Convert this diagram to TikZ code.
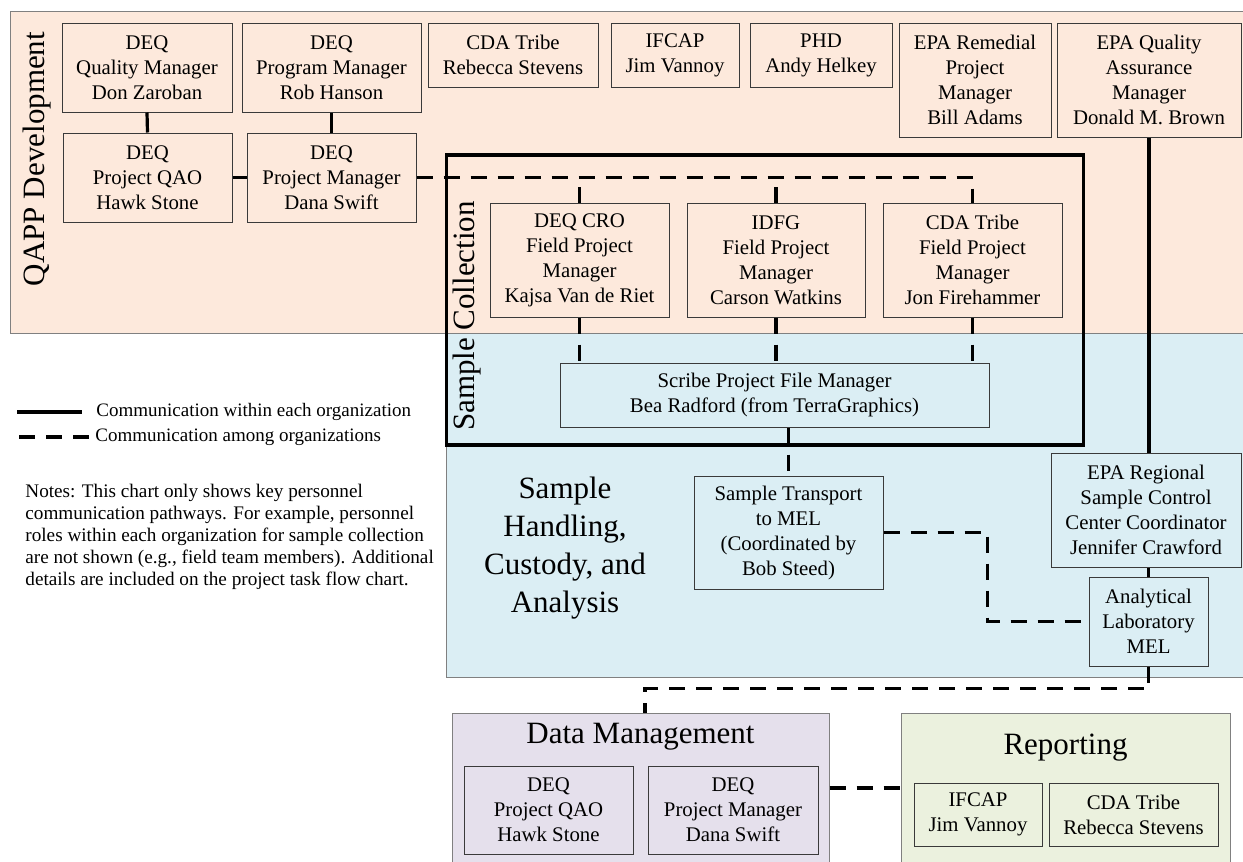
\documentclass[tikz,border=0pt]{standalone}
\usepackage{fontspec}
\setmainfont{Liberation Serif}
\usetikzlibrary{positioning,calc}
\definecolor{qappfill}{HTML}{FDE9DC}
\definecolor{handfill}{HTML}{DBEEF4}
\definecolor{datafill}{HTML}{E5E0EC}
\definecolor{repfill}{HTML}{EBF1DE}
\definecolor{boxline}{HTML}{3A3A3A}
\definecolor{regionline}{HTML}{808080}
\begin{document}
\begin{tikzpicture}[x=0.5pt,y=-0.5pt,
    person/.style={draw=boxline,line width=0.5pt,align=center,inner sep=0pt,font=\fontsize{10.4}{12.5}\selectfont},
    qappbox/.style={person,fill=qappfill},
    handbox/.style={person,fill=handfill},
    databox/.style={person,fill=datafill},
    repbox/.style={person,fill=repfill},
    region/.style={draw=regionline,line width=0.5pt},
    within/.style={line width=1.6pt},
    among/.style={line width=1.6pt,dash pattern=on 8pt off 5.5pt},
    bigtitle/.style={font=\fontsize{15.5}{19}\selectfont,align=center,inner sep=0pt},
    legendtext/.style={font=\fontsize{9.5}{11.5}\selectfont,inner sep=0pt}]
  \useasboundingbox (0,0) rectangle (1243,862);
  \clip (0,0) rectangle (1243,862);
  % the phases as shaded regions
  \draw[region,fill=qappfill] (10,11) rectangle (1260,333);
  \draw[region,fill=handfill] (446,333) rectangle (1260,677);
  \node[region,fill=datafill,minimum width=188.5pt,minimum height=78pt,inner sep=0pt] (dm) at (640.5,791) {};
  \node[region,fill=repfill,minimum width=164.5pt,minimum height=78pt,inner sep=0pt] (rep) at (1065.5,791) {};
  \draw[within] (446.5,155) rectangle (1083.5,445);
  % phase titles
  \node[bigtitle,rotate=90] (qapptitle) at (37,159) {QAPP Development};
  \node[bigtitle,rotate=90] (colltitle) at (467,316) {Sample Collection};
  \node[bigtitle] (handtitle) at (565,548) {Sample\\Handling,\\Custody, and\\Analysis};
  \node[bigtitle] (dmtitle) at (640.5,737) {Data Management};
  \node[bigtitle] (reptitle) at (1065.5,748) {Reporting};
  % QAPP development
  \node[qappbox,minimum width=85pt,minimum height=44.5pt] (qm) at (147,67.5) {DEQ\\Quality Manager\\Don Zaroban};
  \node[qappbox,minimum width=89.5pt,minimum height=44.5pt] (prm) at (331.5,67.5) {DEQ\\Program Manager\\Rob Hanson};
  \node[qappbox,minimum width=85pt,minimum height=32pt] (cda) at (513,55) {CDA Tribe\\Rebecca Stevens};
  \node[qappbox,minimum width=64pt,minimum height=32pt] (ifcap) at (675,55) {IFCAP\\Jim Vannoy};
  \node[qappbox,minimum width=71pt,minimum height=32pt] (phd) at (821,55) {PHD\\Andy Helkey};
  \node[qappbox,minimum width=76pt,minimum height=57pt] (epar) at (975,80) {EPA Remedial\\Project\\Manager\\Bill Adams};
  \node[qappbox,minimum width=92pt,minimum height=57pt] (epaq) at (1149,80) {EPA Quality\\Assurance\\Manager\\Donald M. Brown};
  \node[qappbox,minimum width=84.5pt,minimum height=44.5pt] (qao) at (147.5,177.5) {DEQ\\Project QAO\\Hawk Stone};
  \node[qappbox,minimum width=84.5pt,minimum height=44.5pt] (dpm) at (331.5,177.5) {DEQ\\Project Manager\\Dana Swift};
  % sample collection
  \node[qappbox,minimum width=89.5pt,minimum height=57pt] (cro) at (579.5,260) {DEQ CRO\\Field Project\\Manager\\Kajsa Van de Riet};
  \node[qappbox,minimum width=89pt,minimum height=57pt] (idfg) at (776,260) {IDFG\\Field Project\\Manager\\Carson Watkins};
  \node[qappbox,minimum width=89.5pt,minimum height=57pt] (cdaf) at (972.5,260) {CDA Tribe\\Field Project\\Manager\\Jon Firehammer};
  \node[handbox,minimum width=214.5pt,minimum height=32pt] (scribe) at (774.5,395) {Scribe Project File Manager\\Bea Radford (from TerraGraphics)};
  % handling, custody and analysis
  \node[handbox,minimum width=94.5pt,minimum height=56.5pt] (transport) at (788.5,532.5) {Sample Transport\\to MEL\\(Coordinated by\\Bob Steed)};
  \node[handbox,minimum width=95pt,minimum height=57pt] (epareg) at (1146,510) {EPA Regional\\Sample Control\\Center Coordinator\\Jennifer Crawford};
  \node[handbox,minimum width=59.5pt,minimum height=44.5pt] (lab) at (1148.5,621.5) {Analytical\\Laboratory\\MEL};
  % data management and reporting
  \node[databox,minimum width=84.5pt,minimum height=44pt] (dmqao) at (548.5,810) {DEQ\\Project QAO\\Hawk Stone};
  \node[databox,minimum width=85pt,minimum height=44pt] (dmpm) at (733,810) {DEQ\\Project Manager\\Dana Swift};
  \node[repbox,minimum width=64pt,minimum height=31.5pt] (repifcap) at (978,814.5) {IFCAP\\Jim Vannoy};
  \node[repbox,minimum width=84.5pt,minimum height=31.5pt] (repcda) at (1133.5,814.5) {CDA Tribe\\Rebecca Stevens};
  % within each organization
  \draw[within] (qm.south) -- (qao.north);
  \draw[within] (prm.south) -- (dpm.north);
  \draw[within] (qao.east) -- (dpm.west);
  \draw[within] (epaq.south) -- (epaq.south |- epareg.north);
  \draw[within] (lab.north |- epareg.south) -- (lab.north);
  % among organizations
  \draw[among] (dpm.east) -| (cdaf.north);
  \draw[among] (cro.north) -- (cro.north |- dpm.east);
  \draw[among] (idfg.north) -- (idfg.north |- dpm.east);
  \draw[among] (cro.south) -- (cro.south |- scribe.north);
  \draw[among] (idfg.south) -- (idfg.south |- scribe.north);
  \draw[among] (cdaf.south) -- (cdaf.south |- scribe.north);
  \draw[among] (transport.north |- scribe.south) -- (transport.north);
  \draw[among] (transport.east) -- ++(104,0) |- (lab.west);
  \coordinate (dmtop) at ($(dm.north)+(4.5,0)$);
  \draw[among] (lab.south) -- ++(0,22) -| (dmtop);
  \draw[among] ([yshift=1.5pt]dm.east) -- ([yshift=1.5pt]rep.west);
  % legend and notes
  \coordinate (solida) at (17,412);
  \coordinate (solidb) at (82,412);
  \coordinate (dasha) at (19,437);
  \coordinate (dashb) at (93,437);
  \draw[within] (solida) -- (solidb);
  \draw[among] (dasha) -- (dashb);
  \node[legendtext,anchor=west] (solidtxt) at (96,412) {Communication within each organization};
  \node[legendtext,anchor=west] (dashtxt) at (95,437) {Communication among organizations};
  \node[legendtext,anchor=north west,align=left,font=\fontsize{9.6}{11}\selectfont] (notes) at (25,484)
    {Notes: This chart only shows key personnel\\communication pathways. For example, personnel\\roles within each organization for sample collection\\are not shown (e.g., field team members). Additional\\details are included on the project task flow chart.};
\end{tikzpicture}
\end{document}
